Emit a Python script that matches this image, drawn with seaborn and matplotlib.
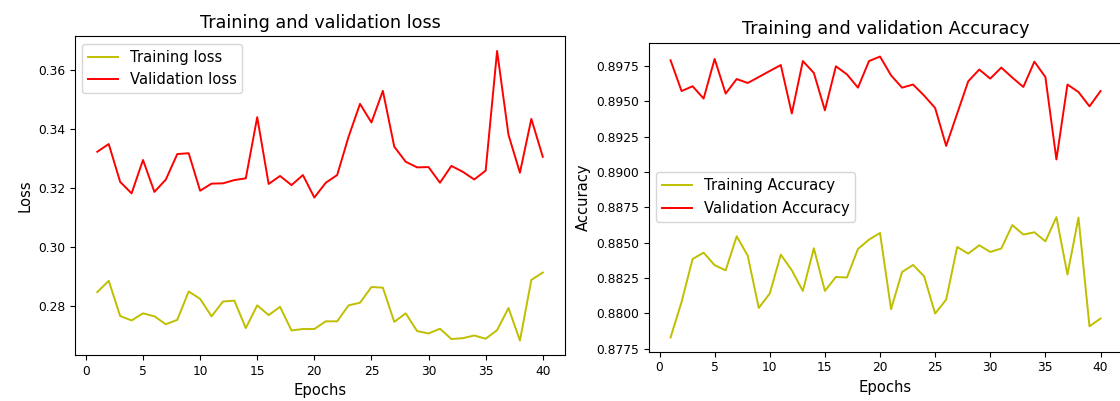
import numpy as np
import pandas as pd
import matplotlib
matplotlib.use("Agg")
import matplotlib.pyplot as plt
import seaborn as sns

epochs = list(range(1, 41))

train_loss = [0.2847, 0.2885, 0.2766, 0.2751, 0.2775, 0.2765, 0.2738, 0.2753, 0.2849, 0.2824,
              0.2765, 0.2815, 0.2818, 0.2725, 0.2802, 0.2769, 0.2797, 0.2717, 0.2722, 0.2722,
              0.2748, 0.2748, 0.2802, 0.2811, 0.2864, 0.2862, 0.2746, 0.2775, 0.2715, 0.2707,
              0.2723, 0.2688, 0.2691, 0.2700, 0.2689, 0.2718, 0.2793, 0.2683, 0.2888, 0.2913]
val_loss = [0.3322, 0.3348, 0.3220, 0.3181, 0.3294, 0.3186, 0.3228, 0.3314, 0.3317, 0.3190,
            0.3214, 0.3215, 0.3226, 0.3232, 0.3439, 0.3213, 0.3240, 0.3209, 0.3243, 0.3167,
            0.3217, 0.3243, 0.3373, 0.3484, 0.3421, 0.3528, 0.3339, 0.3288, 0.3269, 0.3270,
            0.3217, 0.3274, 0.3254, 0.3228, 0.3258, 0.3663, 0.3379, 0.3251, 0.3433, 0.3305]

train_acc = [0.87829, 0.88080, 0.88384, 0.88429, 0.88340, 0.88304, 0.88545, 0.88408, 0.88038, 0.88140,
             0.88415, 0.88304, 0.88158, 0.88460, 0.88158, 0.88257, 0.88253, 0.88455, 0.88521, 0.88568,
             0.88029, 0.88292, 0.88342, 0.88262, 0.87998, 0.88097, 0.88469, 0.88422, 0.88481, 0.88434,
             0.88458, 0.88624, 0.88557, 0.88573, 0.88509, 0.88680, 0.88274, 0.88677, 0.87908, 0.87963]
val_acc = [0.89790, 0.89572, 0.89606, 0.89519, 0.89799, 0.89554, 0.89657, 0.89629, 0.89671, 0.89714,
           0.89756, 0.89413, 0.89784, 0.89700, 0.89436, 0.89747, 0.89690, 0.89596, 0.89784, 0.89816,
           0.89683, 0.89596, 0.89618, 0.89540, 0.89452, 0.89184, 0.89413, 0.89641, 0.89724, 0.89660,
           0.89738, 0.89667, 0.89601, 0.89780, 0.89671, 0.89088, 0.89618, 0.89565, 0.89464, 0.89572]

TICK_FS = 8.8
LABEL_FS = 10.6
plt.rcParams.update({
    "font.family": ["DejaVu Sans"],
    "font.size": LABEL_FS,
    "xtick.labelsize": TICK_FS,
    "ytick.labelsize": TICK_FS,
    "axes.labelsize": LABEL_FS,
    "axes.titlesize": 12.7,
    "legend.fontsize": LABEL_FS,
    "lines.linewidth": 1.4,
})

fig = plt.figure(figsize=(11.2, 4.01), dpi=100)
ax1 = fig.add_axes([0.067, 0.1147, 0.4375, 0.7943])
ax2 = fig.add_axes([0.5795, 0.1234, 0.4223, 0.7706])

df_loss = pd.DataFrame({"epoch": epochs, "train": train_loss, "val": val_loss})
df_acc = pd.DataFrame({"epoch": epochs, "train": train_acc, "val": val_acc})

sns.lineplot(data=df_loss, x="epoch", y="train", ax=ax1, color="y", label="Training loss")
sns.lineplot(data=df_loss, x="epoch", y="val", ax=ax1, color="r", label="Validation loss")
ax1.set_title("Training and validation loss")
ax1.set_xlabel("Epochs")
ax1.set_ylabel("Loss")
ax1.set_xticks([0, 5, 10, 15, 20, 25, 30, 35, 40])
ax1.legend(loc="upper left")

sns.lineplot(data=df_acc, x="epoch", y="train", ax=ax2, color="y", label="Training Accuracy")
sns.lineplot(data=df_acc, x="epoch", y="val", ax=ax2, color="r", label="Validation Accuracy")
ax2.set_title("Training and validation Accuracy")
ax2.set_xlabel("Epochs")
ax2.set_ylabel("Accuracy")
ax2.set_xticks([0, 5, 10, 15, 20, 25, 30, 35, 40])
ax2.legend(loc="center left")

for ax in (ax1, ax2):
    ax.margins(x=0.05, y=0.05)

fig.savefig("out.png", dpi=100)
